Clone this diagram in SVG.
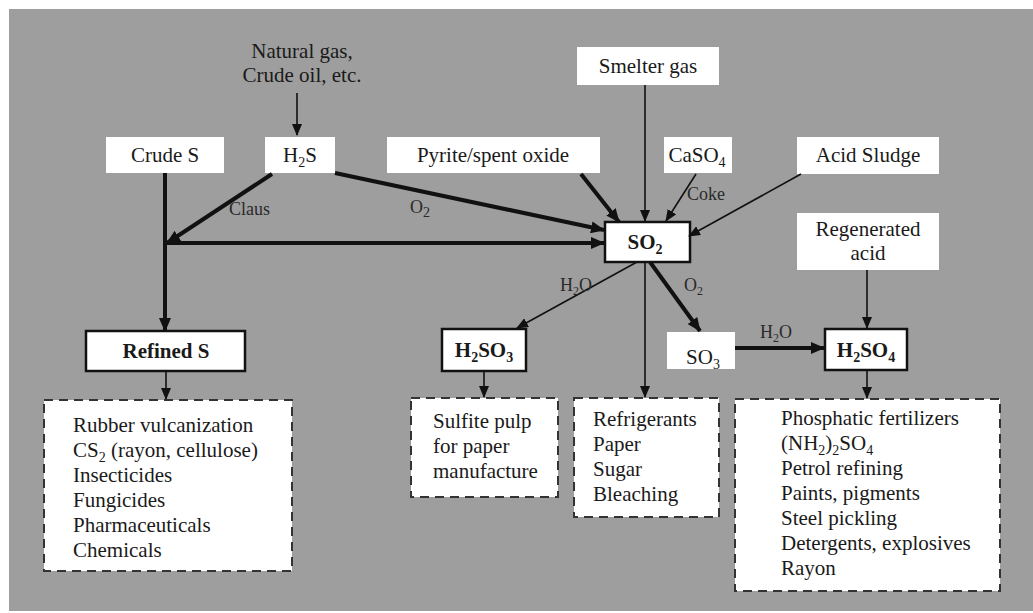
<svg xmlns="http://www.w3.org/2000/svg" width="1033" height="613" viewBox="0 0 1033 613">
<style>
text{font-family:"Liberation Serif","Times New Roman",serif;fill:#1a1a1a;}
.t{font-size:21px;}
.b{font-size:21px;font-weight:bold;}
.lbl{font-size:18px;fill:#2a2a2a;}
.box{fill:#fff;stroke:none;}
.bbox{fill:#fff;stroke:#111;stroke-width:2.5;}
.dbox{fill:#fff;stroke:#333;stroke-width:2;stroke-dasharray:9,6;}
.thin{stroke:#111;stroke-width:1.6;fill:none;}
.thick{stroke:#111;stroke-width:4;fill:none;}
.sub{font-size:14px;}
</style>
<defs>
<marker id="ah" viewBox="0 0 12 10" refX="11" refY="5" markerWidth="12" markerHeight="10" markerUnits="userSpaceOnUse" orient="auto">
<path d="M0,0 L12,5 L0,10 z" fill="#111"/>
</marker>
<marker id="ahb" viewBox="0 0 14 12" refX="13" refY="6" markerWidth="14" markerHeight="12" markerUnits="userSpaceOnUse" orient="auto">
<path d="M0,0 L14,6 L0,12 z" fill="#111"/>
</marker>
</defs>
<rect x="9" y="9" width="1024" height="602" fill="#9e9e9e"/>

<g id="natural-gas">
<text class="t" x="302" y="58" text-anchor="middle">Natural gas,</text>
<text class="t" x="302" y="82" text-anchor="middle">Crude oil, etc.</text>
</g>
<g id="crude-s"><rect class="box" x="106" y="137" width="118" height="36"/><text class="t" x="165" y="162" text-anchor="middle">Crude S</text></g>
<g id="h2s"><rect class="box" x="265" y="137" width="70" height="36"/><text class="t" x="300" y="162" text-anchor="middle">H<tspan class="sub" dy="5">2</tspan><tspan dy="-5">S</tspan></text></g>
<g id="pyrite"><rect class="box" x="387" y="137" width="213" height="36"/><text class="t" x="493" y="162" text-anchor="middle">Pyrite/spent oxide</text></g>
<g id="smelter"><rect class="box" x="577" y="47" width="142" height="38"/><text class="t" x="648" y="73" text-anchor="middle">Smelter gas</text></g>
<g id="caso4"><rect class="box" x="664" y="137" width="68" height="36"/><text class="t" x="697" y="162" text-anchor="middle">CaSO<tspan class="sub" dy="5">4</tspan></text></g>
<g id="acid-sludge"><rect class="box" x="797" y="137" width="142" height="37"/><text class="t" x="868" y="162" text-anchor="middle">Acid Sludge</text></g>
<g id="regen"><rect class="box" x="797" y="213" width="142" height="57"/><text class="t" x="868" y="236" text-anchor="middle">Regenerated</text><text class="t" x="868" y="260" text-anchor="middle">acid</text></g>
<g id="so2"><rect class="bbox" x="605" y="222" width="85" height="40"/><text class="b" x="645" y="249" text-anchor="middle">SO<tspan class="sub" dy="5">2</tspan></text></g>
<g id="refined-s"><rect class="bbox" x="86" y="331" width="159" height="40"/><text class="b" x="166" y="358" text-anchor="middle">Refined S</text></g>
<g id="h2so3"><rect class="bbox" x="442" y="329" width="84" height="42"/><text class="b" x="484" y="357" text-anchor="middle">H<tspan class="sub" dy="5">2</tspan><tspan dy="-5">SO</tspan><tspan class="sub" dy="5">3</tspan></text></g>
<g id="so3"><rect class="box" x="667" y="332" width="68" height="37"/><text class="t" x="703" y="364" text-anchor="middle">SO<tspan class="sub" dy="5">3</tspan></text></g>
<g id="h2so4"><rect class="bbox" x="825" y="329" width="82" height="41"/><text class="b" x="866" y="357" text-anchor="middle">H<tspan class="sub" dy="5">2</tspan><tspan dy="-5">SO</tspan><tspan class="sub" dy="5">4</tspan></text></g>

<g id="uses-s">
<rect class="dbox" x="44" y="400" width="248" height="171"/>
<text class="t" x="73" y="432">Rubber vulcanization</text>
<text class="t" x="73" y="457">CS<tspan class="sub" dy="5">2</tspan><tspan dy="-5"> (rayon, cellulose)</tspan></text>
<text class="t" x="73" y="482">Insecticides</text>
<text class="t" x="73" y="507">Fungicides</text>
<text class="t" x="73" y="532">Pharmaceuticals</text>
<text class="t" x="73" y="557">Chemicals</text>
</g>
<g id="uses-h2so3">
<rect class="dbox" x="411" y="398" width="147" height="99"/>
<text class="t" x="433" y="428">Sulfite pulp</text>
<text class="t" x="433" y="453">for paper</text>
<text class="t" x="433" y="478">manufacture</text>
</g>
<g id="uses-so2">
<rect class="dbox" x="574" y="398" width="145" height="119"/>
<text class="t" x="593" y="426">Refrigerants</text>
<text class="t" x="593" y="451">Paper</text>
<text class="t" x="593" y="476">Sugar</text>
<text class="t" x="593" y="501">Bleaching</text>
</g>
<g id="uses-h2so4">
<rect class="dbox" x="735" y="399" width="265" height="192"/>
<text class="t" x="781" y="425">Phosphatic fertilizers</text>
<text class="t" x="781" y="450">(NH<tspan class="sub" dy="5">2</tspan><tspan dy="-5">)</tspan><tspan class="sub" dy="5">2</tspan><tspan dy="-5">SO</tspan><tspan class="sub" dy="5">4</tspan></text>
<text class="t" x="781" y="475">Petrol refining</text>
<text class="t" x="781" y="500">Paints, pigments</text>
<text class="t" x="781" y="525">Steel pickling</text>
<text class="t" x="781" y="550">Detergents, explosives</text>
<text class="t" x="781" y="575">Rayon</text>
</g>

<g id="connectors">
<line class="thin" x1="297" y1="93" x2="297" y2="135" marker-end="url(#ah)"/>
<line class="thick" x1="165" y1="173" x2="165" y2="331" marker-end="url(#ahb)"/>
<line class="thick" x1="272" y1="174" x2="167" y2="243" marker-end="url(#ahb)"/>
<line class="thick" x1="165" y1="243" x2="604" y2="243" marker-end="url(#ahb)"/>
<line class="thick" x1="335" y1="173" x2="604" y2="230" marker-end="url(#ahb)"/>
<line class="thick" x1="581" y1="174" x2="619" y2="222" marker-end="url(#ahb)"/>
<line class="thin" x1="645" y1="85" x2="645" y2="221" marker-end="url(#ah)"/>
<line class="thin" x1="696" y1="174" x2="666" y2="221" marker-end="url(#ah)"/>
<line class="thin" x1="801" y1="174" x2="689" y2="236" marker-end="url(#ah)"/>
<line class="thin" x1="637" y1="262" x2="517" y2="328" marker-end="url(#ah)"/>
<line class="thin" x1="645" y1="262" x2="645" y2="397" marker-end="url(#ah)"/>
<line class="thick" x1="650" y1="262" x2="700" y2="331" marker-end="url(#ahb)"/>
<line class="thick" x1="735" y1="348" x2="824" y2="348" marker-end="url(#ahb)"/>
<line class="thin" x1="867" y1="270" x2="867" y2="328" marker-end="url(#ah)"/>
<line class="thin" x1="166" y1="371" x2="166" y2="399" marker-end="url(#ah)"/>
<line class="thin" x1="484" y1="371" x2="484" y2="397" marker-end="url(#ah)"/>
<line class="thin" x1="867" y1="370" x2="867" y2="398" marker-end="url(#ah)"/>
<text class="lbl" x="229" y="215">Claus</text>
<text class="lbl" x="410" y="213">O<tspan class="sub" font-size="12" dy="4">2</tspan></text>
<text class="lbl" x="687" y="200">Coke</text>
<text class="lbl" x="560" y="291">H<tspan font-size="12" dy="4">2</tspan><tspan dy="-4">O</tspan></text>
<text class="lbl" x="684" y="291">O<tspan font-size="12" dy="4">2</tspan></text>
<text class="lbl" x="760" y="338">H<tspan font-size="12" dy="4">2</tspan><tspan dy="-4">O</tspan></text>
</g>
</svg>
